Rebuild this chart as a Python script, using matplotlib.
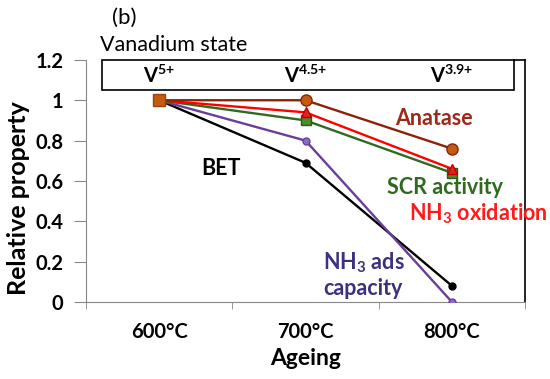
import numpy as np
import matplotlib
matplotlib.use('Agg')
import matplotlib.pyplot as plt
from matplotlib.patches import Rectangle

plt.rcParams['font.family'] = ['Lato', 'DejaVu Sans']
plt.rcParams['mathtext.fontset'] = 'custom'
plt.rcParams['mathtext.rm'] = 'Lato:bold'
plt.rcParams['mathtext.bf'] = 'Lato:bold'
plt.rcParams['mathtext.it'] = 'Lato:bold'

# data
ageing = ['600°C', '700°C', '800°C']
anatase = [1.0, 1.0, 0.76]
nh3_oxidation = [1.0, 0.94, 0.66]
scr_activity = [1.0, 0.90, 0.64]
nh3_ads = [1.0, 0.80, 0.0]
bet = [1.0, 0.69, 0.08]
v_states = [r'V$^{5{+}}$', r'V$^{4.5{+}}$', r'V$^{3.9{+}}$']
yticks = [0, 0.2, 0.4, 0.6, 0.8, 1.0, 1.2]
ytick_labels = ['0', '0.2', '0.4', '0.6', '0.8', '1', '1.2']

x = np.arange(len(ageing))

fig = plt.figure(figsize=(5.5, 3.79), dpi=100)
ax = fig.add_axes([0.156, 0.203, 0.799, 0.639])

lw = 1.7
ax.plot(x, bet, color='black', lw=lw, marker='o', ms=5, zorder=3)
ax.plot(x, nh3_ads, color='#6a3d9a', lw=lw, marker='o', ms=5,
        mfc='#8b6cc4', mec='#6a3d9a', zorder=3)
ax.plot(x, scr_activity, color='#2e6b1e', lw=lw, marker='s', ms=7,
        mfc='#4f8a2a', mec='#2e5a1e', zorder=4)
ax.plot(x, nh3_oxidation, color='#ff0000', lw=lw, marker='^', ms=7,
        mfc='#e82020', mec='#c00000', zorder=4)
ax.plot(x, anatase, color='#8b220a', lw=lw, marker='o', ms=8,
        mfc='#c55a11', mec='#8b220a', zorder=5)
ax.plot(x[:1], anatase[:1], ls='none', marker='s', ms=8,
        mfc='#c55a11', mec='#a04010', zorder=6)

ax.set_xlim(-0.5, 2.5)
ax.set_ylim(0, 1.2)
ax.set_xticks(x)
ax.set_xticklabels(ageing, fontsize=14.5, fontweight='bold')
ax.set_xticks([-0.5, 0.5, 1.5, 2.5], minor=True)
ax.tick_params(axis='x', which='major', length=0, pad=14)
ax.tick_params(axis='x', which='minor', length=5, color='#888888')
ax.set_yticks(yticks)
ax.set_yticklabels(ytick_labels, fontsize=14.5, fontweight='bold')
ax.tick_params(axis='y', length=9, color='#888888', pad=7)

ax.spines['top'].set_visible(False)
ax.spines['left'].set_color('#888888')
ax.spines['bottom'].set_color('#888888')
ax.spines['right'].set_color('black')
ax.spines['right'].set_linewidth(1.2)

ax.set_xlabel('Ageing', fontsize=16.5, fontweight='bold')
ax.xaxis.set_label_coords(0.5, -46 / 242)
ax.set_ylabel('Relative property', fontsize=18, fontweight='bold', va='center')
ax.yaxis.set_label_coords(-67 / 439, 0.43)

# vanadium state box
ax.add_patch(Rectangle((0.036, 1.05), 0.939, 0.15, transform=ax.get_yaxis_transform(),
                       fill=False, ec='black', lw=1.2, clip_on=False))
ax.plot([0.975, 1.0], [1.2, 1.2], color='black', lw=1.2,
        transform=ax.get_yaxis_transform(), clip_on=False)
for i, s in enumerate(v_states):
    ax.text(x[i], 1.12, s, ha='center', va='center', fontsize=14.5, fontweight='bold')

fs = 15.5
ax.text(1.88, 0.91, 'Anatase', color='#9c2a1a', fontsize=fs, fontweight='bold',
        ha='center', va='center')
ax.text(1.95, 0.57, 'SCR activity', color='#2e6b1e', fontsize=fs, fontweight='bold',
        ha='center', va='center')
ax.text(2.18, 0.44, r'NH$_3$ oxidation', color='#ff1a1a', fontsize=fs, fontweight='bold',
        ha='center', va='center', clip_on=False)
ax.text(0.42, 0.66, 'BET', color='black', fontsize=fs, fontweight='bold',
        ha='center', va='center')
ax.text(1.40, 0.135, 'NH$_3$ ads\ncapacity', color='#3f2f7f', fontsize=fs, fontweight='bold',
        ha='center', va='center', multialignment='left', linespacing=1.15)

fig.text(124 / 550, 1 - 18 / 379, '(b)', fontsize=16, ha='center', va='center')
fig.text(100 / 550, 1 - 45 / 379, 'Vanadium state', fontsize=15.5, ha='left', va='center')

fig.savefig('out.png', dpi=100)
